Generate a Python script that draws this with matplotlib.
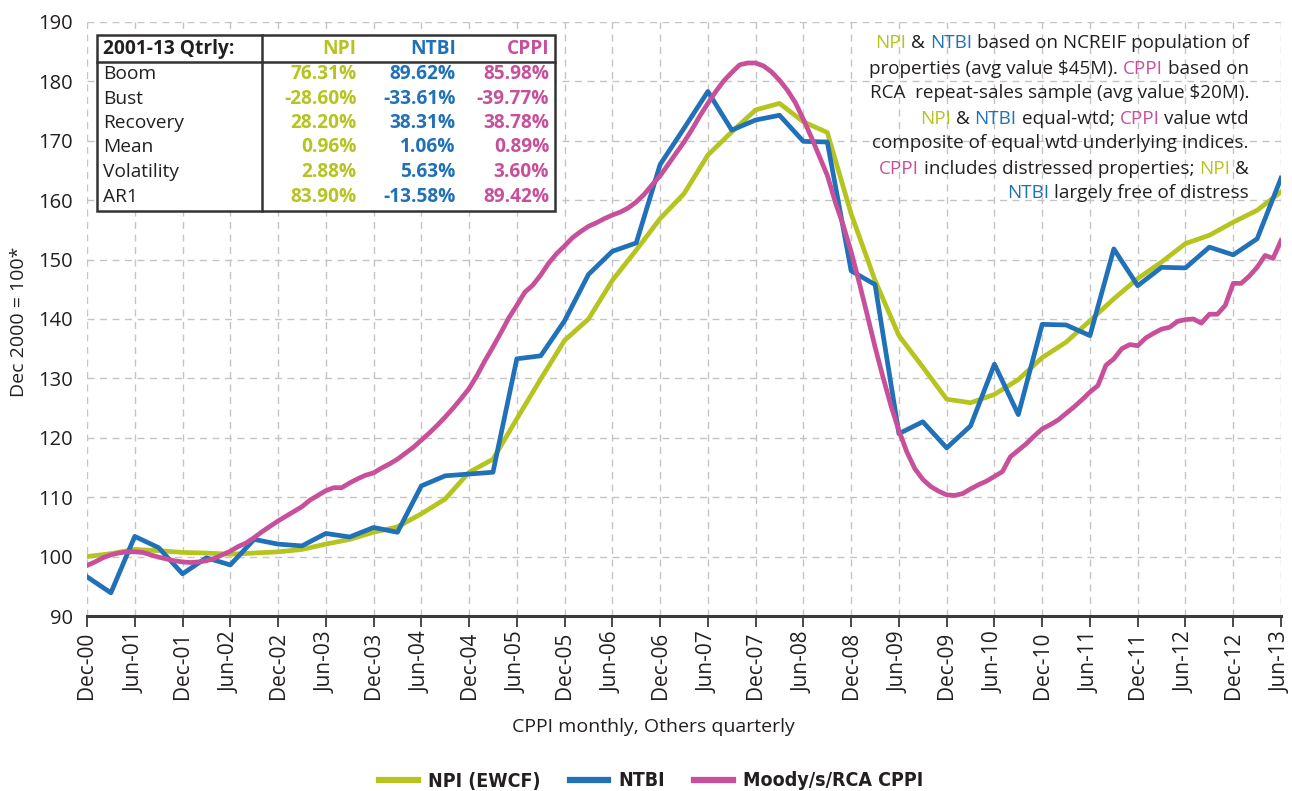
import numpy as np
import matplotlib
matplotlib.use('Agg')
import matplotlib.pyplot as plt
from matplotlib.patches import Rectangle
from matplotlib.lines import Line2D

plt.rcParams['font.family'] = ['Open Sans', 'DejaVu Sans']

# quarterly series, Dec-00 .. Jun-13
npi = [100.0, 100.5, 101.2, 101.0, 100.7, 100.6, 100.4, 100.6, 100.8, 101.2,
       102.1, 102.9, 104.1, 105.0, 107.2, 109.7, 114.2, 116.4, 123.2, 129.9,
       136.4, 140.0, 146.5, 151.6, 156.9, 161.1, 167.6, 171.5, 175.2, 176.3,
       173.2, 171.4, 157.7, 146.5, 137.2, 131.9, 126.5, 125.9, 127.3, 129.8,
       133.5, 136.1, 139.7, 143.4, 146.8, 149.6, 152.7, 154.1, 156.3, 158.3,
       161.4]
ntbi = [96.6, 93.9, 103.4, 101.5, 97.1, 99.8, 98.6, 102.9, 102.1, 101.8,
        103.9, 103.3, 104.9, 104.1, 111.9, 113.6, 113.9, 114.2, 133.3, 133.8,
        139.7, 147.5, 151.4, 152.8, 166.0, 172.1, 178.3, 171.8, 173.5, 174.3,
        169.9, 169.8, 148.1, 145.8, 120.7, 122.7, 118.3, 122.0, 132.4, 123.9,
        139.1, 139.0, 137.2, 151.8, 145.6, 148.7, 148.6, 152.1, 150.8, 153.5,
        163.7]
# monthly series, Dec-00 .. Jun-13
cppi = [98.5, 99.1, 99.8, 100.3, 100.6, 100.8, 100.8, 100.7, 100.3, 99.9,
        99.6, 99.3, 99.1, 99.0, 99.1, 99.3, 99.7, 100.3, 100.9, 101.7,
        102.3, 103.2, 104.2, 105.1, 106.0, 106.8, 107.6, 108.4, 109.5, 110.3,
        111.1, 111.6, 111.6, 112.4, 113.1, 113.7, 114.1, 114.9, 115.6, 116.4,
        117.4, 118.4, 119.6, 120.8, 122.1, 123.5, 125.0, 126.6, 128.3, 130.5,
        133.0, 135.3, 137.7, 140.2, 142.3, 144.5, 145.7, 147.4, 149.4, 151.0,
        152.3, 153.7, 154.7, 155.6, 156.2, 156.9, 157.5, 158.0, 158.7, 159.7,
        161.0, 162.6, 164.1, 166.0, 167.9, 169.8, 171.9, 174.2, 176.3, 178.3,
        180.1, 181.5, 182.8, 183.1, 183.1, 182.6, 181.6, 180.2, 178.5, 176.4,
        173.6, 170.6, 167.4, 164.2, 159.7, 155.8, 151.3, 146.2, 140.8, 135.3,
        130.2, 125.4, 121.2, 117.6, 114.8, 113.0, 111.8, 111.0, 110.4, 110.3,
        110.6, 111.4, 112.1, 112.7, 113.5, 114.3, 116.8, 117.9, 119.0, 120.3,
        121.5, 122.2, 123.0, 124.1, 125.2, 126.4, 127.7, 128.8, 132.2, 133.3,
        135.0, 135.7, 135.5, 136.8, 137.6, 138.3, 138.6, 139.6, 139.9, 140.0,
        139.3, 140.8, 140.8, 142.3, 146.0, 146.0, 147.2, 148.7, 150.7, 150.2,
        153.2]

tick_labels = ['Dec-00', 'Jun-01', 'Dec-01', 'Jun-02', 'Dec-02', 'Jun-03',
               'Dec-03', 'Jun-04', 'Dec-04', 'Jun-05', 'Dec-05', 'Jun-06',
               'Dec-06', 'Jun-07', 'Dec-07', 'Jun-08', 'Dec-08', 'Jun-09',
               'Dec-09', 'Jun-10', 'Dec-10', 'Jun-11', 'Dec-11', 'Jun-12',
               'Dec-12', 'Jun-13']

table_title = '2001-13 Qtrly:'
table_cols = ['NPI', 'NTBI', 'CPPI']
table_rows = ['Boom', 'Bust', 'Recovery', 'Mean', 'Volatility', 'AR1']
npi_stats = ['76.31%', '-28.60%', '28.20%', '0.96%', '2.88%', '83.90%']
ntbi_stats = ['89.62%', '-33.61%', '38.31%', '1.06%', '5.63%', '-13.58%']
cppi_stats = ['85.98%', '-39.77%', '38.78%', '0.89%', '3.60%', '89.42%']

GREEN = '#b5c41f'
BLUE = '#2171b8'
MAGENTA = '#c8509a'
DARK = '#231f20'
colors = {'g': GREEN, 'b': BLUE, 'm': MAGENTA, 'k': DARK}

note_lines = [
    [('NPI', 'g'), (' & ', 'k'), ('NTBI', 'b'), (' based on NCREIF population of', 'k')],
    [('properties (avg value $45M). ', 'k'), ('CPPI', 'm'), (' based on', 'k')],
    [('RCA  repeat-sales sample (avg value $20M).', 'k')],
    [('NPI', 'g'), (' & ', 'k'), ('NTBI', 'b'), (' equal-wtd; ', 'k'), ('CPPI', 'm'), (' value wtd', 'k')],
    [('composite of equal wtd underlying indices.', 'k')],
    [('CPPI', 'm'), (' includes distressed properties; ', 'k'), ('NPI', 'g'), (' &', 'k')],
    [('NTBI', 'b'), (' largely free of distress', 'k')],
]

W, H = 1292, 791


def fx(px):
    return px / W


def fy(py):
    return 1 - py / H


quarter_x = np.arange(len(npi)) * 3
month_x = np.arange(len(cppi))

fig = plt.figure(figsize=(W / 100, H / 100), dpi=100)
ax = fig.add_axes([fx(87), fy(616), (1281 - 87) / W, (616 - 22) / H])

ax.plot(quarter_x, npi, color=GREEN, lw=3.4, label='NPI (EWCF)', zorder=3)
ax.plot(quarter_x, ntbi, color=BLUE, lw=3.4, label='NTBI', zorder=4)
ax.plot(month_x, cppi, color=MAGENTA, lw=3.4, label='Moody/s/RCA CPPI', zorder=5)

ax.set_xlim(0, 150)
ax.set_ylim(90, 190)
ax.set_xticks(np.arange(0, 151, 6))
ax.set_xticklabels(tick_labels, rotation=90, fontsize=15, color=DARK)
ax.set_yticks(np.arange(90, 191, 10))
ax.tick_params(axis='y', length=0, pad=10, labelsize=14.5, labelcolor=DARK)
ax.tick_params(axis='x', length=8, width=1.3, color='#3a3a3a', pad=3)
for side in ['top', 'left', 'right']:
    ax.spines[side].set_visible(False)
ax.spines['bottom'].set_color('#3a3a3a')
ax.spines['bottom'].set_linewidth(2.2)
ax.grid(True, color='#c4c4c4', linestyle=(0, (5, 4)), lw=1.0)
ax.set_axisbelow(True)

fig.text(fx(19), fy(322), 'Dec 2000 = 100*', rotation=90, ha='center', va='center',
         fontsize=14, color=DARK)
fig.text(fx(653), fy(727), 'CPPI monthly, Others quarterly', ha='center', va='center',
         fontsize=14, color=DARK)

leg = fig.legend(loc='center', bbox_to_anchor=(fx(651), fy(781)), ncol=3, frameon=False,
                 handlelength=2.0, handletextpad=0.5, columnspacing=1.5,
                 prop={'family': ['DejaVu Sans'], 'stretch': 'condensed',
                       'weight': 'bold', 'size': 14})
for h in leg.get_lines():
    h.set_linewidth(4.5)
for t in leg.get_texts():
    t.set_color(DARK)

# stats table
fig.add_artist(Rectangle((fx(97), fy(210.5)), (555 - 97) / W, (210.5 - 35) / H,
                         transform=fig.transFigure, facecolor='white',
                         edgecolor='#333333', lw=1.8, zorder=6))
fig.add_artist(Line2D([fx(97), fx(555)], [fy(62.3), fy(62.3)], transform=fig.transFigure,
                      color='#333333', lw=1.8, zorder=7))
fig.add_artist(Line2D([fx(262.3), fx(262.3)], [fy(35), fy(210.5)], transform=fig.transFigure,
                      color='#333333', lw=1.8, zorder=7))
col_right = [356.7, 455.7, 549.3]
col_colors = [GREEN, BLUE, MAGENTA]
tsize = 13.8
fig.text(fx(103), fy(49.3), table_title, ha='left', va='center', fontsize=tsize,
         weight='bold', color=DARK, zorder=8)
for name, xr, c in zip(table_cols, col_right, col_colors):
    fig.text(fx(xr), fy(49.3), name, ha='right', va='center', fontsize=tsize,
             weight='bold', color=c, zorder=8)
for i, row in enumerate(table_rows):
    yy = fy(74 + 24.5 * i)
    fig.text(fx(103), yy, row, ha='left', va='center', fontsize=tsize, color=DARK, zorder=8)
    for vals, xr, c in zip([npi_stats, ntbi_stats, cppi_stats], col_right, col_colors):
        fig.text(fx(xr), yy, vals[i], ha='right', va='center', fontsize=tsize,
                 weight='bold', color=c, zorder=8)

# multi-coloured note, right aligned
renderer = fig.canvas.get_renderer()


def text_width(s, size):
    t1 = fig.text(0, 0, '|' + s + '|', fontsize=size)
    t2 = fig.text(0, 0, '||', fontsize=size)
    w = t1.get_window_extent(renderer).width - t2.get_window_extent(renderer).width
    t1.remove()
    t2.remove()
    return w


note_size = 13.6
right_px = 1249
for i, segs in enumerate(note_lines):
    full = ''.join(s for s, _ in segs)
    left_px = right_px - text_width(full, note_size)
    prefix = ''
    for s, c in segs:
        lead = len(s) - len(s.lstrip(' '))
        word = s.strip(' ')
        if word:
            x0 = left_px + text_width(prefix + s[:lead], note_size)
            fig.text(fx(x0), fy(43.5 + 25 * i), word, ha='left', va='center',
                     fontsize=note_size, color=colors[c], zorder=8)
        prefix += s

fig.savefig('out.png', dpi=100)
